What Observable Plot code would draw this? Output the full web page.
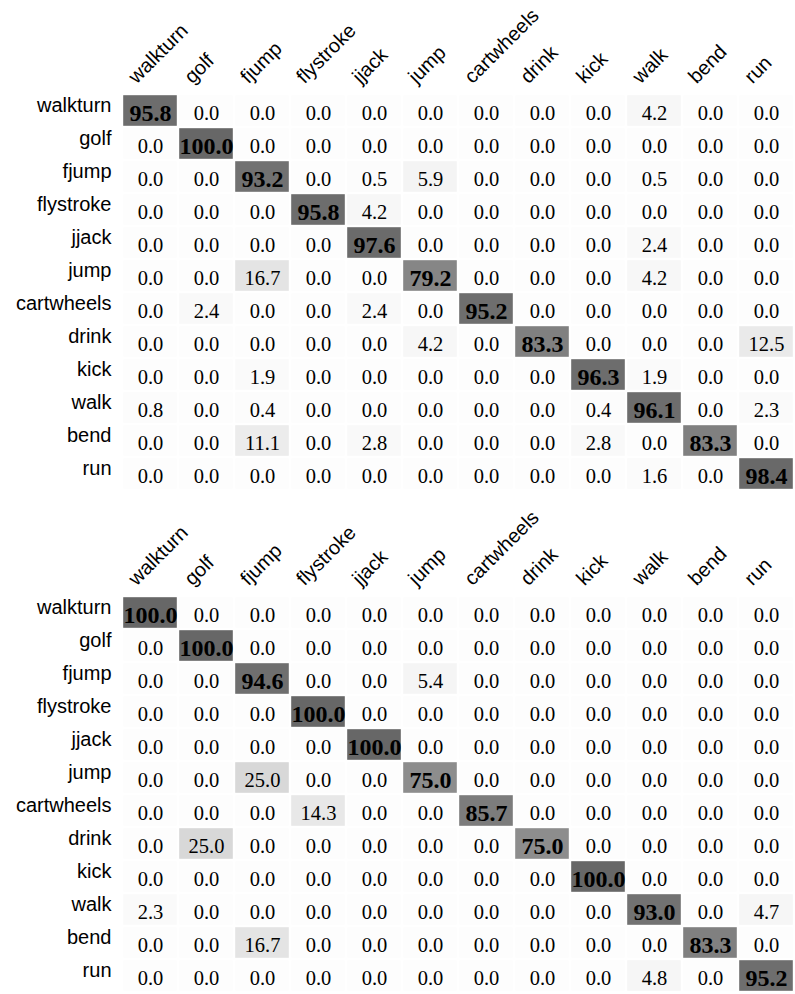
<!DOCTYPE html>
<html>
<head>
<meta charset="utf-8">
<script src="https://cdn.jsdelivr.net/npm/d3@7"></script>
<script src="https://cdn.jsdelivr.net/npm/@observablehq/plot@0.6"></script>
<style>
  html, body { margin: 0; padding: 0; background: #fff; overflow: hidden; }
  #chart svg { display: block; }
</style>
</head>
<body>
<div id="chart"></div>
<script>
const labels = ["walkturn", "golf", "fjump", "flystroke", "jjack", "jump", "cartwheels", "drink", "kick", "walk", "bend", "run"];

// Top confusion matrix (rows = true class, columns = predicted class), percent
const confTop = [
  [95.8, 0.0, 0.0, 0.0, 0.0, 0.0, 0.0, 0.0, 0.0, 4.2, 0.0, 0.0],
  [0.0, 100.0, 0.0, 0.0, 0.0, 0.0, 0.0, 0.0, 0.0, 0.0, 0.0, 0.0],
  [0.0, 0.0, 93.2, 0.0, 0.5, 5.9, 0.0, 0.0, 0.0, 0.5, 0.0, 0.0],
  [0.0, 0.0, 0.0, 95.8, 4.2, 0.0, 0.0, 0.0, 0.0, 0.0, 0.0, 0.0],
  [0.0, 0.0, 0.0, 0.0, 97.6, 0.0, 0.0, 0.0, 0.0, 2.4, 0.0, 0.0],
  [0.0, 0.0, 16.7, 0.0, 0.0, 79.2, 0.0, 0.0, 0.0, 4.2, 0.0, 0.0],
  [0.0, 2.4, 0.0, 0.0, 2.4, 0.0, 95.2, 0.0, 0.0, 0.0, 0.0, 0.0],
  [0.0, 0.0, 0.0, 0.0, 0.0, 4.2, 0.0, 83.3, 0.0, 0.0, 0.0, 12.5],
  [0.0, 0.0, 1.9, 0.0, 0.0, 0.0, 0.0, 0.0, 96.3, 1.9, 0.0, 0.0],
  [0.8, 0.0, 0.4, 0.0, 0.0, 0.0, 0.0, 0.0, 0.4, 96.1, 0.0, 2.3],
  [0.0, 0.0, 11.1, 0.0, 2.8, 0.0, 0.0, 0.0, 2.8, 0.0, 83.3, 0.0],
  [0.0, 0.0, 0.0, 0.0, 0.0, 0.0, 0.0, 0.0, 0.0, 1.6, 0.0, 98.4]
];

// Bottom confusion matrix
const confBottom = [
  [100.0, 0.0, 0.0, 0.0, 0.0, 0.0, 0.0, 0.0, 0.0, 0.0, 0.0, 0.0],
  [0.0, 100.0, 0.0, 0.0, 0.0, 0.0, 0.0, 0.0, 0.0, 0.0, 0.0, 0.0],
  [0.0, 0.0, 94.6, 0.0, 0.0, 5.4, 0.0, 0.0, 0.0, 0.0, 0.0, 0.0],
  [0.0, 0.0, 0.0, 100.0, 0.0, 0.0, 0.0, 0.0, 0.0, 0.0, 0.0, 0.0],
  [0.0, 0.0, 0.0, 0.0, 100.0, 0.0, 0.0, 0.0, 0.0, 0.0, 0.0, 0.0],
  [0.0, 0.0, 25.0, 0.0, 0.0, 75.0, 0.0, 0.0, 0.0, 0.0, 0.0, 0.0],
  [0.0, 0.0, 0.0, 14.3, 0.0, 0.0, 85.7, 0.0, 0.0, 0.0, 0.0, 0.0],
  [0.0, 25.0, 0.0, 0.0, 0.0, 0.0, 0.0, 75.0, 0.0, 0.0, 0.0, 0.0],
  [0.0, 0.0, 0.0, 0.0, 0.0, 0.0, 0.0, 0.0, 100.0, 0.0, 0.0, 0.0],
  [2.3, 0.0, 0.0, 0.0, 0.0, 0.0, 0.0, 0.0, 0.0, 93.0, 0.0, 4.7],
  [0.0, 0.0, 16.7, 0.0, 0.0, 0.0, 0.0, 0.0, 0.0, 0.0, 83.3, 0.0],
  [0.0, 0.0, 0.0, 0.0, 0.0, 0.0, 0.0, 0.0, 0.0, 4.8, 0.0, 95.2]
];

function toTidy(matrix) {
  const out = [];
  matrix.forEach((row, i) => row.forEach((v, j) => out.push({truth: labels[i], pred: labels[j], v, diag: i === j})));
  return out;
}

const sans = "'Liberation Sans', Arial, Helvetica, sans-serif";
const serif = "'Liberation Serif', 'Times New Roman', Times, serif";

function matrixPlot(matrix, height, marginTop) {
  const data = toTidy(matrix);
  return Plot.plot({
    width: 795,
    height,
    marginTop,
    marginLeft: 121,
    marginRight: 0,
    marginBottom: 0,
    x: {domain: labels, padding: 0, axis: null},
    y: {domain: labels, padding: 0, axis: null},
    color: {type: "linear", domain: [0, 100], range: ["#fdfdfd", "#676767"]},
    style: {background: "#fff"},
    marks: [
      Plot.cell(data, {x: "pred", y: "truth", fill: "v", inset: 1.2}),
      Plot.text(data.filter(d => !d.diag), {
        x: "pred", y: "truth", text: d => d.v.toFixed(1),
        fontFamily: serif, fontSize: 20.5, fill: "#000", dy: 2
      }),
      Plot.text(data.filter(d => d.diag), {
        x: "pred", y: "truth", text: d => d.v.toFixed(1),
        fontFamily: serif, fontSize: 24, fontWeight: "bold", fill: "#000", dy: 2
      }),
      Plot.text(labels, {
        y: d => d, text: d => d, frameAnchor: "left", textAnchor: "end",
        lineAnchor: "bottom", dx: -10, dy: 1, fontFamily: sans, fontSize: 20, fill: "#000"
      }),
      Plot.text(labels, {
        x: d => d, text: d => d, frameAnchor: "top", textAnchor: "start",
        lineAnchor: "bottom", rotate: -45, dx: -14, dy: -5,
        fontFamily: sans, fontSize: 20, fill: "#000"
      })
    ]
  });
}

const chart = document.getElementById("chart");
chart.append(matrixPlot(confTop, 494, 89));
chart.append(matrixPlot(confBottom, 502, 97));
</script>
</body>
</html>
